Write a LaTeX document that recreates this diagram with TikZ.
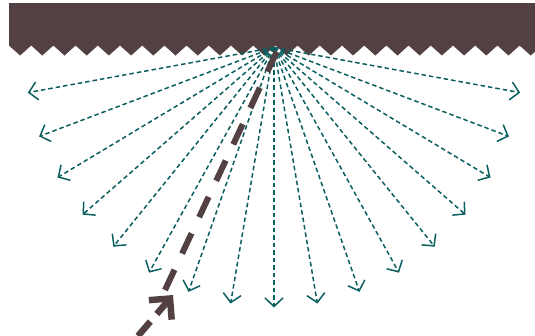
\documentclass[tikz,border=0pt]{standalone}
\usetikzlibrary{arrows.meta}
\definecolor{bandbrown}{HTML}{524043}
\definecolor{rayteal}{HTML}{0A5F5E}
\begin{document}
\begin{tikzpicture}[x=1pt,y=-1pt,
  ray/.style={draw=rayteal, line width=1.5pt, dash pattern=on 4.5pt off 3pt,
    -{Straight Barb[length=8.5pt,width=18pt]}},
  beam/.style={draw=bandbrown, line width=6pt, dash pattern=on 22.4pt off 17.8pt},
  beamarrow/.style={draw=bandbrown, line width=6.5pt, dash pattern=on 19pt off 10pt,
    -{Straight Barb[length=15pt,width=30pt]}}]
\useasboundingbox (0,0) rectangle (535,335);
% surface band with teeth
\fill[bandbrown] (9,3) -- (9,45.5)
  \foreach \k in {0,...,24} { -- ({9+22.2*\k+11.1},55.5) -- ({9+22.2*\k+22.2},45.5) }
  -- (560,3) -- cycle;
% scattering point
\coordinate (o) at (274,47.5);
% scattered rays
\foreach \a in {10,20,...,170} {
  \coordinate (e\a) at ({274-250*cos(\a)},{47.5+260*sin(\a)});
  \draw[ray] (o) -- (e\a);
}
% incoming beam
\coordinate (b1) at (165,290);
\coordinate (b2) at (276.7,51.7);
\draw[beam] (b1) -- (b2);
\coordinate (s0) at (138,336);
\coordinate (s1) at (173,295);
\draw[beamarrow] (s0) -- (s1);
\end{tikzpicture}
\end{document}
